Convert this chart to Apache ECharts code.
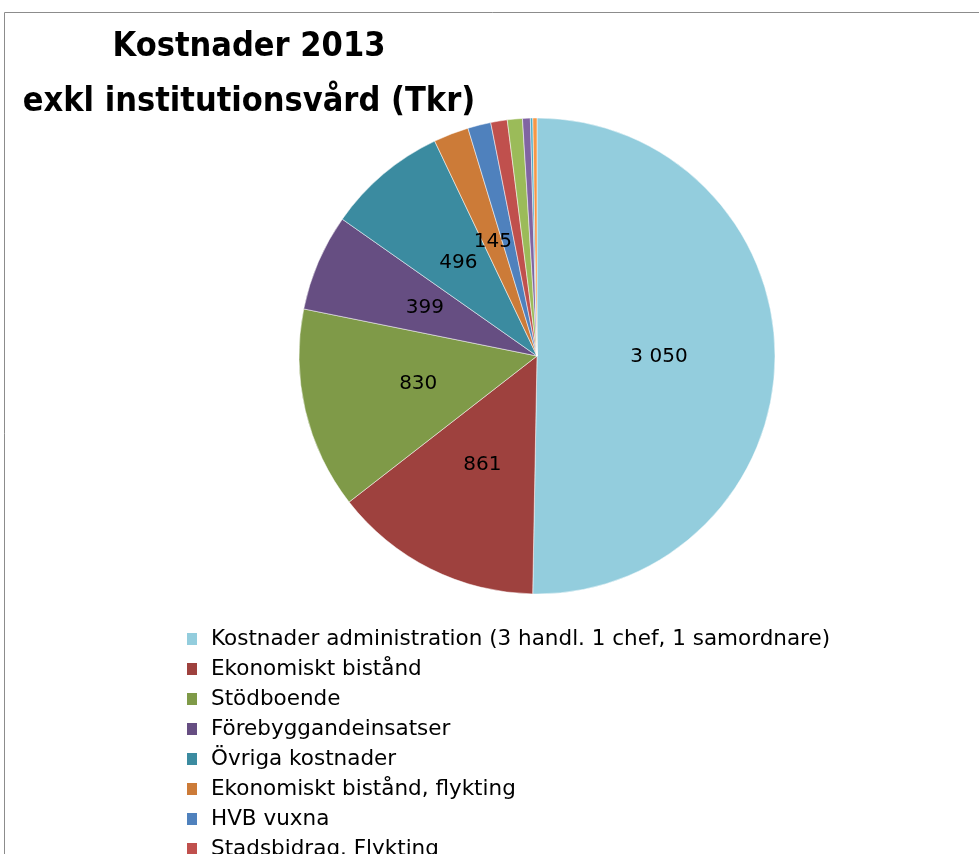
<!DOCTYPE html>
<html>
<head>
<meta charset="UTF-8">
<title>Kostnader 2013</title>
<script src="https://cdn.jsdelivr.net/npm/echarts@6/dist/echarts.min.js"></script>
<style>
  html, body { margin: 0; padding: 0; background: #fff; }
  #main { width: 979px; height: 854px; }
</style>
</head>
<body>
<div id="main"></div>
<script>
// kostnadsposter (Tkr), i ordning medurs från kl 12
var names = [
  'Kostnader administration (3 handl. 1 chef, 1 samordnare)',
  'Ekonomiskt bistånd',
  'Stödboende',
  'Förebyggandeinsatser',
  'Övriga kostnader',
  'Ekonomiskt bistånd, flykting',
  'HVB vuxna',
  'Stadsbidrag. Flykting',
  'Post 9',
  'Post 10',
  'Post 11',
  'Post 12'
];
var values = [3050, 861, 830, 399, 496, 145, 95, 68, 62, 32, 10, 17];
var colors = ['#93CDDD', '#9E413E', '#7F9A48', '#664E82', '#3B8BA0', '#CC7B38',
              '#4F81BD', '#C0504D', '#9BBB59', '#8064A2', '#4BACC6', '#F79646'];
var showLabel = [true, true, true, true, true, true, false, false, false, false, false, false];

var titleFont = '"DejaVu Sans Condensed", "Liberation Sans Narrow", "Liberation Sans", sans-serif';
var font = '"DejaVu Sans", "Liberation Sans", sans-serif';

function fmt(v) {
  return String(v).replace(/\B(?=(\d{3})+(?!\d))/g, ' ');
}

var data = [];
for (var i = 0; i < names.length; i++) {
  data.push({
    name: names[i],
    value: values[i],
    itemStyle: { color: colors[i] },
    label: { show: showLabel[i] }
  });
}

var chart = echarts.init(document.getElementById('main'));
chart.setOption({
  animation: false,
  title: {
    text: 'Kostnader 2013\nexkl institutionsvård (Tkr)',
    left: 244,
    top: 15,
    textAlign: 'center',
    textStyle: {
      fontFamily: titleFont,
      fontWeight: 'bold',
      fontSize: 34,
      lineHeight: 55,
      color: '#000'
    }
  },
  graphic: [{
    type: 'rect',
    shape: { x: 4.5, y: 12.5, width: 1100, height: 1100 },
    style: { fill: 'none', stroke: '#8c8c8c', lineWidth: 1 },
    silent: true
  }],
  legend: {
    orient: 'vertical',
    left: 185,
    top: 624,
    height: 1000,
    padding: 0,
    itemGap: 0,
    itemWidth: 12,
    itemHeight: 14,
    icon: 'rect',
    selectedMode: false,
    textStyle: {
      fontFamily: font,
      fontSize: 21.5,
      lineHeight: 30,
      padding: [0, 0, 0, 8],
      color: '#000'
    },
    data: names
  },
  series: [{
    type: 'pie',
    center: [537, 356],
    radius: 238,
    startAngle: 90,
    clockwise: true,
    avoidLabelOverlap: false,
    itemStyle: { borderColor: '#fff', borderWidth: 0.5 },
    label: {
      position: 'inside',
      fontFamily: font,
      fontSize: 20,
      color: '#000',
      formatter: function (p) { return fmt(p.value); }
    },
    labelLine: { show: false },
    emphasis: { disabled: true },
    data: data
  }]
});
</script>
</body>
</html>
